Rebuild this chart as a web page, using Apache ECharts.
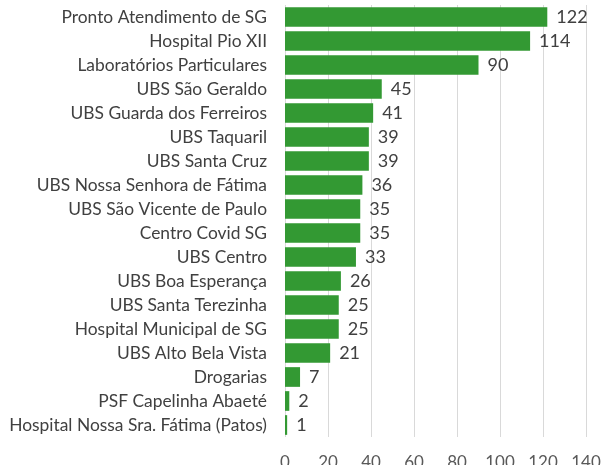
<!DOCTYPE html>
<html>
<head>
<meta charset="utf-8">
<title>Atendimentos por unidade</title>
<script src="https://cdn.jsdelivr.net/npm/echarts@6/dist/echarts.min.js"></script>
<style>
    html, body { margin: 0; padding: 0; background: #fff; }
    #main { width: 603px; height: 465px; }
</style>
</head>
<body>
<div id="main"></div>
<script>
    // categorias de cima para baixo
    var unidades = [
        'Pronto Atendimento de SG', 'Hospital Pio XII', 'Laboratórios Particulares',
        'UBS São Geraldo', 'UBS Guarda dos Ferreiros', 'UBS Taquaril', 'UBS Santa Cruz',
        'UBS Nossa Senhora de Fátima', 'UBS São Vicente de Paulo', 'Centro Covid SG',
        'UBS Centro', 'UBS Boa Esperança', 'UBS Santa Terezinha', 'Hospital Municipal de SG',
        'UBS Alto Bela Vista', 'Drogarias', 'PSF Capelinha Abaeté',
        'Hospital Nossa Sra. Fátima (Patos)'
    ];
    var valores = [122, 114, 90, 45, 41, 39, 39, 36, 35, 35, 33, 26, 25, 25, 21, 7, 2, 1];
    var ticks = [0, 20, 40, 60, 80, 100, 120, 140];

    var fonte = 'Lato, "Open Sans", sans-serif';
    var myChart = echarts.init(document.getElementById('main'));

    option = {
        animation: false,
        grid: { left: 285, right: 17, top: 5, bottom: 28, containLabel: false, outerBoundsMode: 'none' },
        xAxis: {
            type: 'value',
            min: ticks[0],
            max: ticks[ticks.length - 1],
            interval: 20,
            axisLine: { show: false },
            axisTick: { show: false },
            axisLabel: { margin: 17, fontSize: 17, color: '#595959', fontFamily: fonte },
            splitLine: { lineStyle: { color: '#d9d9d9', width: 1 } }
        },
        yAxis: {
            type: 'category',
            inverse: true,
            data: unidades,
            axisLine: { show: false },
            axisTick: { show: false },
            axisLabel: { margin: 18, fontSize: 17.4, color: '#404040', fontFamily: fonte }
        },
        series: [
            {
                type: 'bar',
                data: valores,
                barCategoryGap: '18%',
                itemStyle: { color: '#339933' },
                label: {
                    show: true,
                    position: 'right',
                    distance: 9,
                    fontSize: 18,
                    color: '#404040',
                    fontFamily: fonte
                }
            }
        ]
    };

    myChart.setOption(option);
</script>
</body>
</html>
